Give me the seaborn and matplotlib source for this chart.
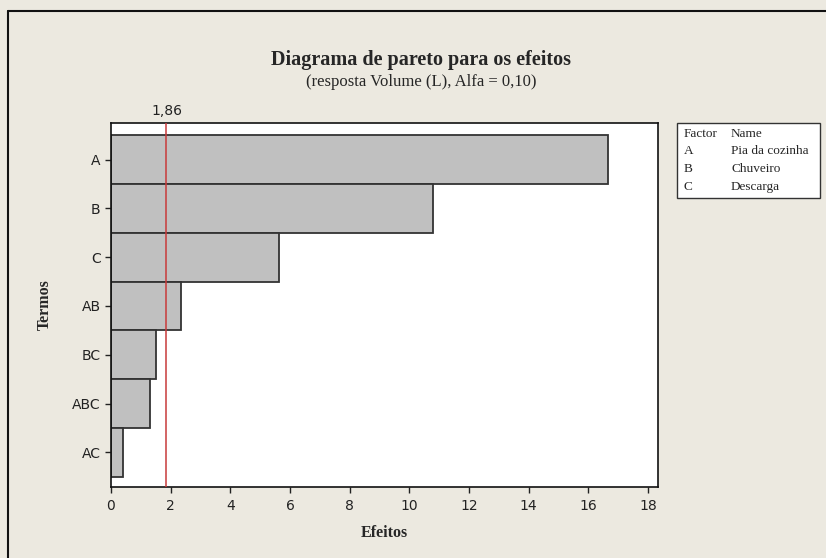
import matplotlib
matplotlib.use("Agg")
import matplotlib.pyplot as plt
import seaborn as sns
import pandas as pd
from matplotlib.lines import Line2D
from matplotlib.patches import Rectangle

# Dados
termos = ["A", "B", "C", "AB", "BC", "ABC", "AC"]
efeitos = [16.65, 10.80, 5.63, 2.34, 1.50, 1.32, 0.39]
limite = 1.86
x_ticks = [0, 2, 4, 6, 8, 10, 12, 14, 16, 18]

fatores = ["A", "B", "C"]
nomes = ["Pia da cozinha", "Chuveiro", "Descarga"]

df = pd.DataFrame({"Termos": termos, "Efeitos": efeitos})

sns.set_style("ticks")
plt.rcParams["font.family"] = ["DejaVu Sans"]

fundo = "#ECE9E0"
fig = plt.figure(figsize=(8.26, 5.58), dpi=100, facecolor=fundo)
W, H = 826, 558
ax = fig.add_axes([111 / W, 1 - 487 / H, (658 - 111) / W, (487 - 123) / H])
ax.set_facecolor("white")

sns.barplot(data=df, x="Efeitos", y="Termos", orient="h", color="#C0C0C0",
            saturation=1, width=1.0, edgecolor="#333333", linewidth=1.3,
            ax=ax)

ax.axvline(limite, color="#C83A3A", linewidth=1.1, zorder=5)
ax.text(limite, 1.015, "1,86", transform=ax.get_xaxis_transform(),
        ha="center", va="bottom", fontsize=10, color="#222222")

ax.set_xlim(0, 18.34)
ax.set_ylim(6.71, -0.75)
ax.set_xticks(x_ticks)
ax.set_xticklabels([str(t) for t in x_ticks])

for s in ax.spines.values():
    s.set_visible(True)
    s.set_color("#111111")
    s.set_linewidth(1.2)

ax.tick_params(axis="both", direction="out", length=4, width=1,
               colors="#222222", labelsize=10)
ax.tick_params(axis="x", pad=5)

ax.set_xlabel("Efeitos", family="Liberation Serif", fontweight="bold",
              fontsize=11.5, labelpad=8)
ax.set_ylabel("Termos", family="Liberation Serif", fontweight="bold",
              fontsize=11.5, labelpad=14)

# Títulos
fig.text(421 / W, 1 - 60 / H, "Diagrama de pareto para os efeitos",
         ha="center", va="center", family="Liberation Serif",
         fontweight="bold", fontsize=14.5)
fig.text(421 / W, 1 - 82 / H, "(resposta Volume (L), Alfa = 0,10)",
         ha="center", va="center", family="Liberation Serif", fontsize=12)

# Caixa de legenda dos fatores
fig.add_artist(Rectangle((677 / W, 1 - 198 / H), (820 - 677) / W, 75 / H,
                         transform=fig.transFigure, facecolor="white",
                         edgecolor="#333333", linewidth=1))
fig.text(684 / W, 1 - 134 / H, "Factor", family="Liberation Serif",
         fontsize=9.5, va="center")
fig.text(731 / W, 1 - 134 / H, "Name", family="Liberation Serif",
         fontsize=9.5, va="center")
for i, (f, n) in enumerate(zip(fatores, nomes)):
    y = 1 - (151.5 + 17.5 * i) / H
    fig.text(684 / W, y, f, family="Liberation Serif", fontsize=9.5,
             va="center")
    fig.text(731 / W, y, n, family="Liberation Serif", fontsize=9.5,
             va="center")

# Moldura externa
fig.add_artist(Line2D([8 / W, 8 / W], [0, 1 - 11 / H], color="#111111",
                      linewidth=1.5, transform=fig.transFigure))
fig.add_artist(Line2D([8 / W, 1], [1 - 11 / H, 1 - 11 / H], color="#111111",
                      linewidth=1.5, transform=fig.transFigure))

fig.savefig("out.png", dpi=100, facecolor=fundo)
